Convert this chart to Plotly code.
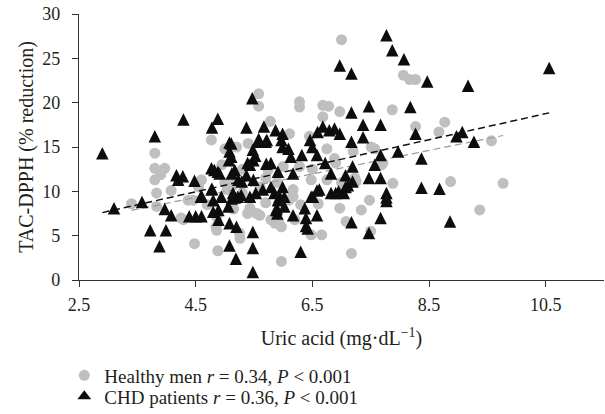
import plotly.graph_objects as go

# ---------------- data ----------------
healthy_x = [7.00, 5.58, 5.58, 6.28, 6.28, 6.68, 6.78, 6.68, 6.97, 5.78,
             8.06, 8.17, 8.27, 7.87, 8.77, 8.67, 8.27, 9.57, 9.77, 8.87,
             9.37, 7.17, 5.97, 4.48, 4.88, 6.66, 6.48, 7.50, 7.48, 7.88,
             7.34, 6.97, 7.08, 3.80, 3.80, 3.97, 3.90, 3.80, 3.83, 3.83,
             3.40, 4.08, 4.37, 4.25, 4.77, 5.00, 5.20, 5.40, 6.11, 6.45,
             6.88, 6.90, 7.23, 6.97, 5.60, 5.86, 5.97, 6.17, 6.17, 6.48,
             6.28, 5.74, 4.60, 4.85, 5.25, 5.43, 5.26, 5.39, 5.55, 5.79,
             5.92, 4.86, 5.04, 4.46, 4.29, 4.86, 7.57, 7.69, 7.51, 7.71,
             7.25, 5.00, 5.15, 5.30, 5.70, 5.90, 6.00, 6.30, 6.60, 6.75,
             7.00, 5.60, 5.15, 4.70, 4.55, 4.95, 6.10, 6.20, 5.70, 6.50,
             7.20, 6.75, 5.30]
healthy_y = [27.1, 21.0, 19.6, 20.1, 19.5, 19.7, 19.6, 18.4, 19.0, 17.9,
             23.1, 22.6, 22.6, 19.2, 17.8, 16.7, 17.3, 15.7, 10.9, 11.1,
             7.9, 3.0, 2.1, 4.1, 3.3, 5.1, 5.1, 5.5, 9.0, 10.9,
             7.9, 8.1, 6.6, 14.3, 12.6, 12.6, 11.9, 11.3, 9.8, 8.3,
             8.6, 10.1, 9.0, 7.0, 15.8, 14.8, 15.0, 15.4, 16.5, 16.2,
             13.7, 13.2, 11.5, 9.8, 7.3, 6.4, 6.0, 9.4, 10.2, 11.3,
             12.8, 12.4, 11.3, 6.0, 5.3, 8.1, 4.7, 7.5, 7.5, 6.8,
             6.6, 7.1, 10.2, 9.0, 6.8, 5.6, 14.8, 13.0, 15.0, 13.2,
             11.1, 11.0, 10.8, 12.5, 11.5, 11.0, 12.8, 8.5, 8.6, 11.3,
             11.0, 10.5, 8.0, 8.5, 10.5, 13.0, 9.0, 6.8, 8.7, 12.5,
             14.5, 14.8, 9.8]

chd_x = [7.77, 7.87, 8.07, 6.97, 7.17, 8.47, 9.17, 10.56, 8.18, 7.47,
         7.17, 5.47, 4.29, 4.88, 4.78, 5.37, 5.67, 5.87, 5.99, 6.68,
         6.79, 6.88, 6.97, 6.59, 7.37, 7.67, 7.37, 8.27, 8.97, 9.07,
         9.27, 3.80, 2.90, 7.97, 7.67, 8.37, 7.17, 5.97, 5.57, 5.70,
         6.46, 6.50, 5.08, 5.08, 5.07, 5.48, 5.43, 5.52, 5.49, 5.39,
         6.58, 6.32, 6.13, 6.09, 5.99, 5.79, 5.71, 5.91, 6.17, 6.72,
         6.82, 7.07, 7.19, 7.57, 7.47, 7.67, 7.19, 7.07, 6.95, 6.82,
         6.62, 6.51, 7.11, 7.04, 6.90, 6.58, 6.48, 8.37, 8.68, 7.77,
         7.77, 7.77, 7.67, 8.86, 7.17, 7.47, 6.30, 6.58, 6.39, 6.39,
         6.42, 6.17, 5.88, 5.90, 5.89, 5.94, 6.37, 6.02, 6.02, 5.99,
         5.85, 5.79, 5.65, 5.91, 5.49, 5.53, 5.43, 5.28, 5.17, 5.14,
         4.94, 4.80, 4.77, 4.60, 5.22, 5.12, 5.06, 4.89, 4.89, 4.80,
         4.60, 4.50, 4.39, 4.08, 3.97, 3.58, 3.10, 5.08, 5.20, 5.48,
         3.99, 3.72, 3.88, 5.08, 5.19, 5.48, 5.48, 4.77, 4.88, 4.17,
         4.28, 4.20, 4.48, 5.17, 5.23, 5.37, 5.29, 5.12, 4.82, 4.91,
         4.78, 4.59, 5.11, 5.11, 5.58, 5.72]
chd_y = [27.6, 25.9, 24.9, 24.2, 23.3, 22.4, 21.9, 23.9, 19.5, 19.6,
         18.9, 20.5, 18.1, 18.2, 17.2, 17.2, 17.3, 16.9, 16.5, 17.3,
         16.9, 17.1, 16.5, 16.7, 17.5, 17.5, 16.1, 16.5, 16.2, 16.7,
         15.6, 16.2, 14.3, 14.5, 14.1, 13.7, 15.6, 15.8, 15.6, 15.6,
         15.8, 15.0, 15.5, 14.5, 13.5, 14.7, 13.0, 14.0, 13.5, 13.2,
         14.1, 14.1, 13.9, 14.8, 15.0, 13.2, 13.1, 12.2, 12.0, 13.2,
         12.0, 11.8, 12.8, 13.0, 11.5, 11.5, 11.1, 10.5, 10.0, 9.8,
         10.2, 9.4, 10.7, 9.8, 9.8, 10.1, 9.4, 10.4, 10.3, 9.8,
         9.3, 8.9, 7.0, 6.6, 6.5, 5.3, 3.2, 7.3, 7.0, 6.1,
         5.8, 7.3, 7.9, 7.5, 8.1, 9.4, 8.1, 9.4, 8.3, 10.5,
         9.8, 10.5, 10.2, 9.0, 11.3, 9.8, 9.4, 9.6, 9.3, 9.8,
         9.4, 9.0, 10.2, 9.5, 9.4, 9.2, 8.3, 7.9, 6.8, 7.7,
         7.2, 7.2, 7.2, 7.3, 8.0, 8.8, 8.1, 6.4, 6.0, 5.4,
         5.6, 5.6, 3.8, 3.9, 2.4, 3.6, 0.9, 12.6, 12.2, 11.8,
         11.7, 11.3, 11.2, 12.4, 11.3, 11.8, 11.1, 12.0, 12.4, 12.0,
         10.3, 9.4, 13.9, 15.4, 15.9, 15.8]

# linear trend lines (end points)
healthy_trend_x = [3.40, 9.77]
healthy_trend_y = [7.85, 16.3]
chd_trend_x = [2.90, 10.56]
chd_trend_y = [7.60, 18.85]

x_ticks = [2.5, 4.5, 6.5, 8.5, 10.5]
x_tick_labels = ["2.5", "4.5", "6.5", "8.5", "10.5"]
y_ticks = [0, 5, 10, 15, 20, 25, 30]
y_range = [0, 30]

healthy_name = "Healthy men <i>r</i> = 0.34, <i>P</i> < 0.001"
chd_name = "CHD patients <i>r</i> = 0.36, <i>P</i> < 0.001"

# ---------------- figure ----------------
FONT = "Liberation Serif"
TRI = 12.5                      # triangle marker size (px)
PLOT_H = 414 - 14 - 134         # plot area height in px
# "arrow-up" hangs below its apex; an overlaid axis shifted by half a marker
# height keeps each triangle centred on its data value.
tri_shift = (TRI / 2) / PLOT_H * (y_range[1] - y_range[0])

fig = go.Figure()

fig.add_trace(go.Scatter(
    x=healthy_x, y=healthy_y, mode="markers", name=healthy_name,
    marker=dict(symbol="circle", size=11, color="#bfbfbf", line=dict(width=0)),
    legend="legend",
))
fig.add_trace(go.Scatter(
    x=chd_x, y=chd_y, mode="markers", name=chd_name, showlegend=False,
    marker=dict(symbol="arrow-up", size=TRI, color="#0d0d0d", line=dict(width=0)),
    yaxis="y2",
))
# legend entry for the CHD series
fig.add_trace(go.Scatter(
    x=[None], y=[None], mode="markers", name=chd_name,
    marker=dict(symbol="triangle-up", size=12, color="#0d0d0d", line=dict(width=0)),
    legend="legend2",
))
fig.add_trace(go.Scatter(
    x=healthy_trend_x, y=healthy_trend_y, mode="lines", showlegend=False,
    line=dict(color="#9a9a9a", width=1.2, dash="7px,4px"), hoverinfo="skip",
))
fig.add_trace(go.Scatter(
    x=chd_trend_x, y=chd_trend_y, mode="lines", showlegend=False,
    line=dict(color="#111111", width=1.5, dash="7px,4px"), hoverinfo="skip",
))

axis_common = dict(
    showgrid=False, zeroline=False, showline=True, linecolor="#333333", linewidth=1.3,
    ticks="outside", ticklen=6, tickwidth=1.3, tickcolor="#333333",
    tickfont=dict(family=FONT, size=18, color="#231f20"),
)

legend_common = dict(xanchor="left", yanchor="middle",
                     font=dict(family=FONT, size=19, color="#231f20"),
                     bgcolor="rgba(0,0,0,0)")

fig.update_layout(
    width=605, height=414,
    margin=dict(l=79, r=1, t=14, b=134, autoexpand=False),
    paper_bgcolor="white", plot_bgcolor="white",
    font=dict(family=FONT, color="#231f20"),
    xaxis=dict(range=[2.5, 11.5], tickmode="array", tickvals=x_ticks, ticktext=x_tick_labels,
               ticklabelstandoff=2, automargin=False,
               title=dict(text="Uric acid (mg·dL<sup>−1</sup>)", font=dict(family=FONT, size=20), standoff=17),
               **axis_common),
    yaxis=dict(range=y_range, tickmode="array", tickvals=y_ticks, ticklabelstandoff=8,
               automargin=False,
               title=dict(text="TAC-DPPH (% reduction)", font=dict(family=FONT, size=20), standoff=3),
               **axis_common),
    yaxis2=dict(overlaying="y", range=[y_range[0] - tri_shift, y_range[1] - tri_shift],
                visible=False),
    legend=dict(x=-0.028, y=(280 - 375.5) / PLOT_H, **legend_common),
    legend2=dict(x=-0.028, y=(280 - 396.5) / PLOT_H, **legend_common),
    showlegend=True,
)

fig.write_html("out.html", config={"displayModeBar": False},
               post_script="document.body.style.margin='0';")
